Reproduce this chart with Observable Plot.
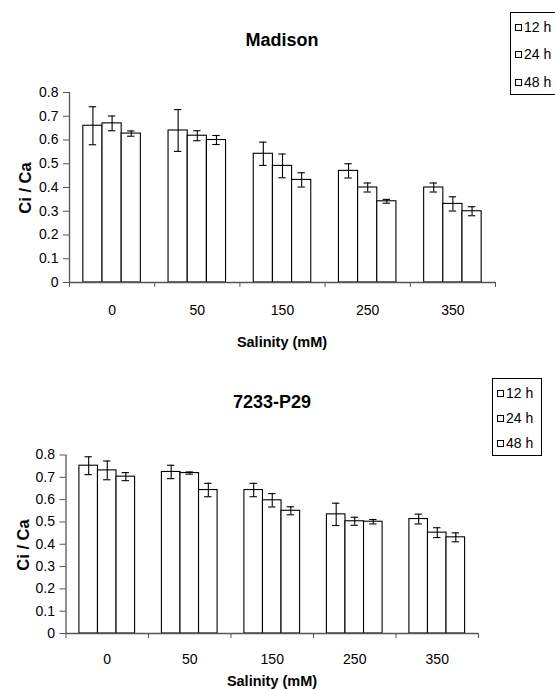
<!DOCTYPE html>
<html>
<head>
<meta charset="utf-8">
<script src="https://cdn.jsdelivr.net/npm/d3@7"></script>
<script src="https://cdn.jsdelivr.net/npm/@observablehq/plot@0.6"></script>
<style>
  html, body { margin: 0; padding: 0; background: #fff; }
  #root { position: relative; width: 555px; height: 691px; overflow: hidden; font-family: "Liberation Sans", Arial, sans-serif; color: #000; }
  .abs { position: absolute; white-space: nowrap; line-height: 1; transform: translate(-50%, -50%); }
  .title { font-size: 18px; font-weight: bold; }
  .axt { font-size: 14.5px; font-weight: bold; }
  .ayt { font-size: 16.5px; font-weight: bold; }
  .legend { position: absolute; border: 1px solid #000; background: #fff; box-sizing: border-box; }
  .item { position: absolute; left: 4px; font-size: 14px; line-height: 1; white-space: nowrap; transform: translateY(-50%); }
  .sq { display: inline-block; width: 7px; height: 7px; border: 1px solid #000; box-sizing: border-box; margin-right: 2px; vertical-align: 1px; }
  svg { position: absolute; left: 0; }
</style>
</head>
<body>
<div id="root"></div>
<script>
// ---- data ----
const salinity = ["0", "50", "150", "250", "350"];
const times = ["12 h", "24 h", "48 h"];
const yTicks = [0, 0.1, 0.2, 0.3, 0.4, 0.5, 0.6, 0.7, 0.8];

// Madison: mean Ci/Ca per salinity (rows) and time (columns)
const madisonMean = [
  [0.66, 0.67, 0.627],
  [0.64, 0.618, 0.60],
  [0.542, 0.491, 0.432],
  [0.47, 0.40, 0.342],
  [0.40, 0.331, 0.30]
];
const madisonErr = [
  [0.08, 0.031, 0.011],
  [0.088, 0.021, 0.019],
  [0.049, 0.05, 0.03],
  [0.03, 0.019, 0.008],
  [0.019, 0.03, 0.019]
];

// 7233-P29
const p29Mean = [
  [0.752, 0.731, 0.703],
  [0.724, 0.719, 0.643],
  [0.643, 0.597, 0.55],
  [0.534, 0.503, 0.501],
  [0.513, 0.452, 0.431]
];
const p29Err = [
  [0.04, 0.042, 0.018],
  [0.03, 0.005, 0.03],
  [0.03, 0.03, 0.018],
  [0.05, 0.018, 0.01],
  [0.022, 0.022, 0.02]
];

// ---- drawing ----
const root = document.getElementById("root");
const BAR = 0.225;                       // bar width, in category units
const OFF = (1 - BAR * times.length) / 2; // group inset

function rowsOf(mean, err) {
  const rows = [];
  salinity.forEach((s, g) => times.forEach((t, j) => {
    const x1 = g + OFF + j * BAR;
    rows.push({sal: s, time: t, v: mean[g][j], e: err[g][j], x1, x2: x1 + BAR, xc: x1 + BAR / 2});
  }));
  return rows;
}

function chart(mean, err, o) {
  const rows = rowsOf(mean, err);
  const cap = 3.7 / ((555 - o.ml - o.mr) / salinity.length);
  const fontSize = "14px";
  const svg = Plot.plot({
    width: 555, height: o.h,
    marginLeft: o.ml, marginRight: o.mr, marginTop: o.mt, marginBottom: o.mb,
    style: {fontFamily: '"Liberation Sans", Arial, sans-serif', fontSize, color: "#000", background: "transparent"},
    x: {domain: [0, salinity.length], axis: null},
    y: {domain: [0, 0.8], axis: null},
    marks: [
      Plot.rectY(rows, {x1: "x1", x2: "x2", y1: 0, y2: "v", fill: "#fff", stroke: "#000", strokeWidth: 1.1}),
      Plot.ruleX(rows, {x: "xc", y1: d => d.v - d.e, y2: d => d.v + d.e, stroke: "#000", strokeWidth: 1.1}),
      Plot.ruleY(rows, {y: d => d.v + d.e, x1: d => d.xc - cap, x2: d => d.xc + cap, stroke: "#000", strokeWidth: 1.1}),
      Plot.ruleY(rows, {y: d => d.v - d.e, x1: d => d.xc - cap, x2: d => d.xc + cap, stroke: "#000", strokeWidth: 1.1}),
      Plot.ruleX([0], {y1: 0, y2: 0.8, stroke: "#555", strokeWidth: 1.3}),
      Plot.ruleY([0], {stroke: "#555", strokeWidth: 1.3}),
      Plot.axisY({ticks: yTicks, tickFormat: d => String(d), tickSize: 6, tickPadding: 5, stroke: "#555", label: null, fontSize}),
      Plot.axisX({ticks: d3.range(salinity.length + 1), tickFormat: () => "", tickSize: 5, stroke: "#555", label: null}),
      Plot.axisX({ticks: salinity.map((s, i) => i + 0.5), tickFormat: d => salinity[Math.floor(d)], tickSize: 0, tickPadding: o.lp, label: null, fontSize})
    ]
  });
  svg.style.top = o.top + "px";
  root.appendChild(svg);
}

function text(cls, str, cx, cy, rot) {
  const d = document.createElement("div");
  d.className = "abs " + cls;
  d.textContent = str;
  d.style.left = cx + "px";
  d.style.top = cy + "px";
  if (rot) d.style.transform = "translate(-50%, -50%) rotate(-90deg)";
  root.appendChild(d);
}

function legend(left, top, w, h, ys) {
  const L = document.createElement("div");
  L.className = "legend";
  Object.assign(L.style, {left: left + "px", top: top + "px", width: w + "px", height: h + "px"});
  times.forEach((t, i) => {
    const it = document.createElement("div");
    it.className = "item";
    it.style.top = ys[i] + "px";
    it.innerHTML = '<span class="sq"></span>' + t;
    L.appendChild(it);
  });
  root.appendChild(L);
}

// Madison chart (plot frame x 69..495, y 92..282)
chart(madisonMean, madisonErr, {top: 0, h: 355, ml: 69, mr: 60, mt: 92, mb: 73, lp: 23});
text("title", "Madison", 282, 40);
text("axt", "Salinity (mM)", 282, 342);
text("ayt", "Ci / Ca", 25, 188, true);
legend(510, 12, 70, 83, [14, 41, 69]);

// 7233-P29 chart (plot frame x 65..478, y 454..633)
chart(p29Mean, p29Err, {top: 355, h: 336, ml: 65.5, mr: 77, mt: 99.5, mb: 58, lp: 21});
text("title", "7233-P29", 272, 402);
text("axt", "Salinity (mM)", 272, 681);
text("ayt", "Ci / Ca", 23, 545, true);
legend(492, 378, 50, 78, [14, 39, 64]);
</script>
</body>
</html>
